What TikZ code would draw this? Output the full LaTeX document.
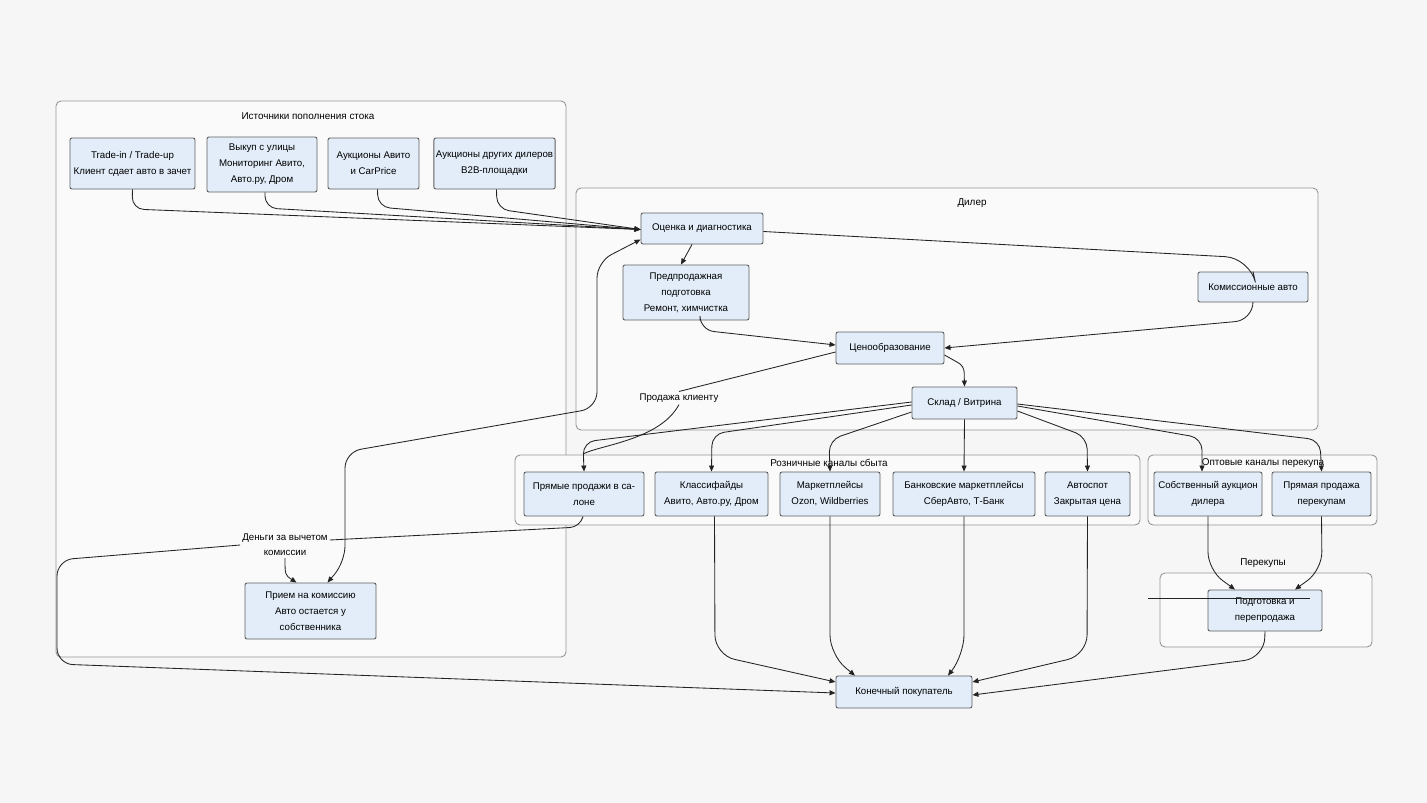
\documentclass[tikz,border=0pt]{standalone}
\usepackage{fontspec}
\setmainfont{Liberation Sans}
\usepackage{xcolor}
\usetikzlibrary{arrows.meta, positioning}
\definecolor{bgcol}{RGB}{246,246,246}
\definecolor{clfill}{RGB}{250,250,250}
\definecolor{cldraw}{RGB}{150,150,150}
\definecolor{boxfill}{RGB}{226,237,249}
\definecolor{boxdraw}{RGB}{95,95,95}
\definecolor{edgecol}{RGB}{35,35,35}
\tikzset{
  box/.style={draw=boxdraw, fill=boxfill, rounded corners=2pt, line width=0.9pt,
              align=center, font=\fontsize{9.7}{16}\selectfont, inner sep=2pt},
  cluster/.style={draw=cldraw, fill=clfill, rounded corners=5pt, line width=0.9pt},
  cltitle/.style={font=\fontsize{9.9}{11}\selectfont, inner sep=1pt},
  elabel/.style={align=center, font=\fontsize{9.7}{15}\selectfont, inner sep=2pt},
  arrow/.style={-{Triangle[length=6pt,width=5pt]}, line width=0.85pt, draw=edgecol,
                rounded corners=12pt},
  plain/.style={line width=0.85pt, draw=edgecol, rounded corners=12pt}
}
\begin{document}
\begin{tikzpicture}[x=1pt, y=-1pt]
  \fill[bgcol] (0,0) rectangle (1427,803);
  \useasboundingbox (0,0) rectangle (1427,803);

  % subgraphs
  \node[cluster, minimum width=510pt, minimum height=556pt] (sources) at (311,379) {};
  \node[cluster, minimum width=742pt, minimum height=242pt] (dealer) at (947,309) {};
  \node[cluster, minimum width=625pt, minimum height=70pt] (retail) at (827.5,490) {};
  \node[cluster, minimum width=229pt, minimum height=70pt] (wholesale) at (1262.5,490) {};
  \node[cluster, minimum width=212pt, minimum height=74pt] (resellers) at (1266,610) {};
  \node[cltitle] at (308,116) {Источники пополнения стока};
  \node[cltitle] at (972,203) {Дилер};
  \node[cltitle] at (829,463) {Розничные каналы сбыта};
  \node[cltitle] at (1263,463) {Оптовые каналы перекупа};
  \node[cltitle] at (1263,563) {Перекупы};

  % sources
  \node[box, minimum width=125pt, minimum height=51pt] (trade) at (132.5,163.5)
    {Trade-in / Trade-up\\Клиент сдает авто в зачет};
  \node[box, minimum width=110pt, minimum height=55pt] (buyout) at (262,164.5)
    {Выкуп с улицы\\Мониторинг Авито,\\Авто.ру, Дром};
  \node[box, minimum width=91pt, minimum height=51pt] (aucAvito) at (373.5,163.5)
    {Аукционы Авито\\и CarPrice};
  \node[box, minimum width=119pt, minimum height=51pt] (aucDealers) at (494.5,163.5)
    {Аукционы других дилеров\\B2B-площадки};
  \node[box, minimum width=131pt, minimum height=56pt] (commission) at (310.5,611)
    {Прием на комиссию\\Авто остается у\\собственника};

  % dealer
  \node[box, minimum width=122pt, minimum height=31pt] (eval) at (702,228.5)
    {Оценка и диагностика};
  \node[box, minimum width=126pt, minimum height=55pt] (prep) at (686,292.5)
    {Предпродажная\\подготовка\\Ремонт, химчистка};
  \node[box, minimum width=110pt, minimum height=30pt] (consign) at (1253,287)
    {Комиссионные авто};
  \node[box, minimum width=108pt, minimum height=32pt] (pricing) at (890,348)
    {Ценообразование};
  \node[box, minimum width=105pt, minimum height=32pt] (stock) at (964.5,403)
    {Склад / Витрина};

  % channels
  \node[box, minimum width=120pt, minimum height=44pt] (direct) at (584,494)
    {Прямые продажи в са-\\лоне};
  \node[box, minimum width=113pt, minimum height=44pt] (classif) at (711.5,494)
    {Классифайды\\Авито, Авто.ру, Дром};
  \node[box, minimum width=100pt, minimum height=44pt] (market) at (830,494)
    {Маркетплейсы\\Ozon, Wildberries};
  \node[box, minimum width=142pt, minimum height=44pt] (bank) at (964,494)
    {Банковские маркетплейсы\\СберАвто, Т-Банк};
  \node[box, minimum width=85pt, minimum height=44pt] (autospot) at (1087.5,494)
    {Автоспот\\Закрытая цена};
  \node[box, minimum width=108pt, minimum height=44pt] (ownAuc) at (1208,494)
    {Собственный аукцион\\дилера};
  \node[box, minimum width=99pt, minimum height=44pt] (resale) at (1321.5,494)
    {Прямая продажа\\перекупам};
  \node[box, minimum width=114pt, minimum height=41pt] (prepResale) at (1265,610.5)
    {Подготовка и\\перепродажа};
  \node[box, minimum width=136pt, minimum height=32pt] (buyer) at (904,692)
    {Конечный покупатель};

  % edge labels
  \node[elabel] (saleLbl) at (679,398) {Продажа клиенту};
  \node[elabel] (money) at (285,545) {Деньги за вычетом\\комиссии};
  \coordinate (saleEnd) at (583,454);

  % sources -> evaluation
  \draw[arrow] (trade.south) -- (132,209) -- ([yshift=-1pt]eval.west);
  \draw[arrow] ([xshift=3pt]buyout.south) -- (265,208) -- ([yshift=-1pt]eval.west);
  \draw[arrow] ([xshift=4pt]aucAvito.south) -- (378,207) -- ([yshift=-1pt]eval.west);
  \draw[arrow] ([xshift=2pt]aucDealers.south) -- (497,209) -- ([yshift=-1pt]eval.west);

  % inside dealer
  \draw[arrow, rounded corners=0pt] ([xshift=-10pt]eval.south) -- ([xshift=-5pt]prep.north);
  \draw[plain, rounded corners=25pt] ([yshift=-3pt]eval.east) -- (1250,258) -- (consign.north);
  \draw[arrow, rounded corners=18pt] (consign.south) -- (1253,320) -- (pricing.east);
  \draw[arrow, rounded corners=14pt] ([xshift=14pt]prep.south) -- (700,330) -- ([yshift=3pt]pricing.west);
  \draw[arrow, rounded corners=6pt] ([yshift=-7pt]pricing.east) -- (964,366) -- (stock.north);
  \draw[plain, rounded corners=0pt] ([yshift=-4pt]pricing.west) -- (saleLbl.north);
  \draw[plain, rounded corners=0pt] (saleLbl.south) .. controls (660,440) and (600,445) .. (saleEnd);

  % stock -> channels
  \draw[arrow] ([yshift=1pt]stock.west) -- (583,442) -- (direct.north);
  \draw[arrow] ([yshift=-2pt]stock.west) -- (712,434) -- (classif.north);
  \draw[arrow] ([yshift=-9pt]stock.west) -- (829,440) -- (market.north);
  \draw[arrow] (stock.south) -- (bank.north);
  \draw[arrow] ([yshift=-8pt]stock.east) -- (1087,437) -- (autospot.north);
  \draw[arrow] ([yshift=-3pt]stock.east) -- (1202,438) -- ([xshift=-6pt]ownAuc.north);
  \draw[arrow] ([yshift=-1pt]stock.east) -- (1320,440) -- (resale.north);

  % wholesale -> resellers
  \draw[arrow, rounded corners=18pt] (ownAuc.south) -- (1208,570) -- ([xshift=-30pt]prepResale.north);
  \draw[arrow, rounded corners=18pt] (resale.south) -- (1322,570) -- ([xshift=30pt]prepResale.north);
  \draw[line width=0.8pt, draw=edgecol] (1148,598) -- (1310,598);

  % channels -> buyer
  \draw[arrow, rounded corners=20pt] ([xshift=3pt]classif.south) -- (715,655) -- ([yshift=10pt]buyer.west);
  \draw[arrow, rounded corners=20pt] (market.south) -- (830,655) -- ([xshift=-49pt]buyer.north);
  \draw[arrow, rounded corners=20pt] (bank.south) -- (964,655) -- ([xshift=44pt]buyer.north);
  \draw[arrow, rounded corners=20pt] (autospot.south) -- (1087,655) -- ([yshift=10pt]buyer.east);
  \draw[arrow, rounded corners=20pt] (prepResale.south) -- (1264,658) -- ([yshift=-3pt]buyer.east);

  % commission flow
  \draw[plain, rounded corners=10pt] ([xshift=-1pt]direct.south) -- (580,527) -- ([yshift=5pt]money.east);
  \draw[arrow, rounded corners=0pt] (money.south) .. controls (285,575) .. ([xshift=-14pt]commission.north);
  \draw[arrow, rounded corners=16pt] (money.west) -- (57,560) -- (57,664) -- ([yshift=-1pt]buyer.west);
  \draw[{Triangle[length=6pt,width=5pt]}-{Triangle[length=6pt,width=5pt]}, line width=0.85pt,
        draw=edgecol, rounded corners=16pt]
    ([xshift=17pt]commission.north) -- (345,562) -- (345,452) -- (597,408) -- (597,262)
    -- ([yshift=-11pt]eval.west);
\end{tikzpicture}
\end{document}
